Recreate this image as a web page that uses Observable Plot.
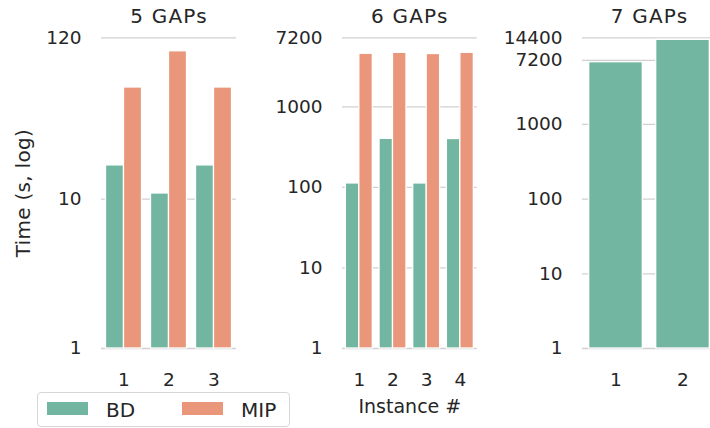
<!DOCTYPE html>
<html>
<head>
<meta charset="utf-8">
<script src="https://cdn.jsdelivr.net/npm/d3@7"></script>
<script src="https://cdn.jsdelivr.net/npm/@observablehq/plot@0.6"></script>
<style>
  html, body { margin: 0; padding: 0; background: white; overflow: hidden; }
  #chart { position: relative; width: 710px; height: 428px; overflow: hidden; font-family: "DejaVu Sans", sans-serif; color: #262626; }
  #chart > svg { position: absolute; left: 0; top: 0; }
  #chart > svg g[aria-label="text"] text { letter-spacing: 1.2px; }
  #chart > svg g[aria-label="y-axis label"] { font-size: 20px; letter-spacing: 0.3px; }
  #chart > svg g[aria-label="x-axis label"] { font-size: 19px; }
  #legend { position: absolute; left: 37px; top: 392px; width: 253px; height: 35px; box-sizing: border-box;
            border: 1.3px solid #d6d6d6; border-radius: 4px; background: white; }
  #legend .lg-swatches { font: 20px "DejaVu Sans", sans-serif !important; color: #262626; margin: 0 !important;
            min-height: 0 !important; height: 33px; display: flex; align-items: center; flex-wrap: nowrap !important; padding-left: 9px; }
  #legend .lg-swatch { margin: 0 !important; width: 135px; display: inline-flex; align-items: center; flex: none; }
  #legend .lg-swatch > svg { margin-right: 18px !important; margin-top: -3px; }
</style>
</head>
<body>
<div id="chart"></div>
<script>
// ---- data ----
const series = ["BD", "MIP"];
const palette = ["#72b6a1", "#e9967a"];

const titles = ["5 GAPs", "6 GAPs", "7 GAPs"];

const instances5 = [1, 2, 3];
const bd5  = [16.8, 10.9, 16.8];
const mip5 = [55.8, 97.5, 55.8];
const yTicks5 = [1, 10, 120];

const instances6 = [1, 2, 3, 4];
const bd6  = [112, 401, 112, 399];
const mip6 = [4560, 4690, 4530, 4690];
const yTicks6 = [1, 10, 100, 1000, 7200];

const instances7 = [1, 2];
const bd7  = [6790, 13530];
const yTicks7 = [1, 10, 100, 1000, 7200, 14400];

// ---- layout ----
const W = 720, H = 428, TOP = 37.3, BOTTOM = 80;
const panels = [
  {title: titles[0], inst: instances5, bd: bd5, mip: mip5, ticks: yTicks5, left: 101, right: 236, ylabel: "Time (s, log)", xlabel: null},
  {title: titles[1], inst: instances6, bd: bd6, mip: mip6, ticks: yTicks6, left: 342, right: 476.7, ylabel: null, xlabel: "Instance #"},
  {title: titles[2], inst: instances7, bd: bd7, mip: null, ticks: yTicks7, left: 582, right: 716, ylabel: null, xlabel: null}
];

const color = d3.scaleOrdinal(series, palette);
const grid = "#d0d0d0";
const chart = document.getElementById("chart");

for (const p of panels) {
  const rows = p.inst.map((k, i) => ({inst: k, bd: p.bd[i], mip: p.mip ? p.mip[i] : null}));
  const plotW = p.right - p.left;
  const bw = 0.8 * plotW / p.inst.length;
  const half = p.mip ? bw / 2 : 0;
  const marks = [
    Plot.ruleY(p.ticks, {y: d => d, stroke: grid, strokeWidth: 1.3}),
    Plot.barY(rows, {x: "inst", y1: 1, y2: "bd", fill: color("BD"), stroke: "white", strokeWidth: 1.3, insetRight: half})
  ];
  if (p.mip) {
    marks.push(Plot.barY(rows, {x: "inst", y1: 1, y2: "mip", fill: color("MIP"), stroke: "white", strokeWidth: 1.3, insetLeft: half}));
  }
  marks.push(Plot.axisY(p.ticks, {text: d => String(d), tickSize: 0, tickPadding: 20,
    label: p.ylabel, labelAnchor: "center", labelOffset: 86, labelArrow: false}));
  marks.push(Plot.axisX({tickSize: 0, tickPadding: 24, label: p.xlabel, labelAnchor: "center", labelOffset: 64}));
  marks.push(Plot.text([p.title], {text: d => d, frameAnchor: "top", dy: -14.6, lineAnchor: "bottom", fontSize: 20, fill: "#262626"}));

  const svg = Plot.plot({
    width: W, height: H,
    marginLeft: p.left, marginRight: W - p.right, marginTop: TOP, marginBottom: BOTTOM,
    style: {background: "transparent", maxWidth: "none", fontFamily: "DejaVu Sans", fontSize: "18.5px", color: "#262626", overflow: "visible"},
    x: {type: "band", domain: p.inst, paddingInner: 0.2, paddingOuter: 0.1, round: false},
    y: {type: "log", domain: [1, p.ticks[p.ticks.length - 1]]},
    marks
  });
  chart.appendChild(svg);
}

// ---- legend ----
const legend = Plot.legend({color: {type: "ordinal", domain: series, range: palette}, legend: "swatches",
  swatchWidth: 41, swatchHeight: 13, className: "lg"});
const box = document.createElement("div");
box.id = "legend";
box.appendChild(legend);
chart.appendChild(box);
</script>
</body>
</html>
